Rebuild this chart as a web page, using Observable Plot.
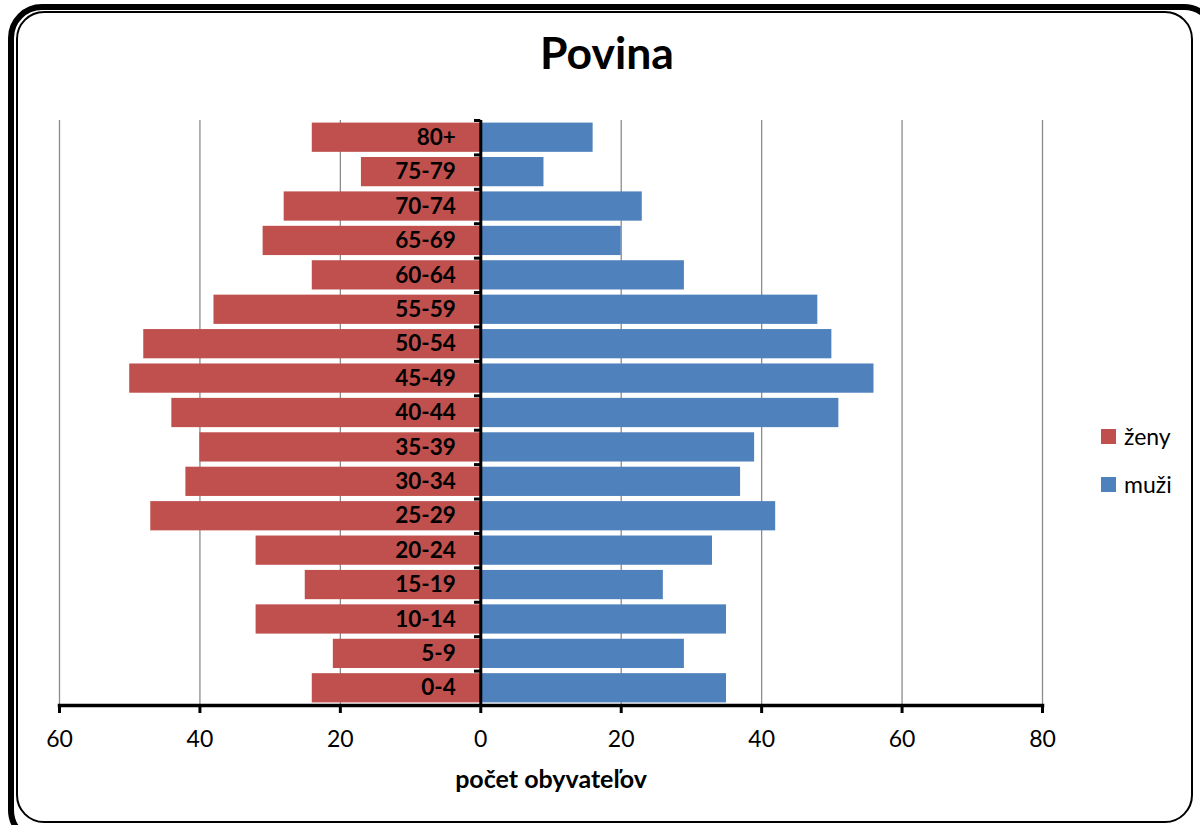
<!DOCTYPE html>
<html>
<head>
<meta charset="utf-8">
<script src="https://cdn.jsdelivr.net/npm/d3@7"></script>
<script src="https://cdn.jsdelivr.net/npm/@observablehq/plot@0.6"></script>
<style>
  html, body { margin: 0; padding: 0; background: #fff; }
  #wrap { position: relative; width: 1200px; height: 825px; overflow: hidden; font-family: Lato, "Open Sans", sans-serif; }
  #outer { position: absolute; left: 8px; top: 4px; width: 1210px; height: 840px; border: 6px solid #000; border-radius: 34px; box-sizing: border-box; }
  #inner { position: absolute; left: 16px; top: 11px; width: 1177px; height: 812px; border: 2px solid #000; border-radius: 28px; box-sizing: border-box; }
  #title { position: absolute; left: 0; width: 1214px; top: 30px; line-height: 1; text-align: center; font-weight: bold; font-size: 44.5px; color: #000; }
  #chart { position: absolute; left: 0; top: 0; }
  #xlabel { position: absolute; left: 0; width: 1102px; top: 766px; line-height: 1; text-align: center; font-weight: bold; font-size: 25px; color: #000; }
  .leg { position: absolute; left: 1101px; height: 30px; line-height: 30px; font-size: 23px; color: #000; display: flex; align-items: center; }
  .sw { width: 15px; height: 15px; margin-right: 8px; }
</style>
</head>
<body>
<div id="wrap">
  <div id="outer"></div>
  <div id="inner"></div>
  <div id="chart"></div>
  <div id="title">Povina</div>
  <div id="xlabel">počet obyvateľov</div>
  <div class="leg" style="top:421px"><div class="sw" style="background:#C0504D"></div>ženy</div>
  <div class="leg" style="top:469px"><div class="sw" style="background:#4F81BD"></div>muži</div>
</div>
<script>
const ageGroups = ["0-4","5-9","10-14","15-19","20-24","25-29","30-34","35-39","40-44","45-49","50-54","55-59","60-64","65-69","70-74","75-79","80+"];
const women = [24,21,32,25,32,47,42,40,44,50,48,38,24,31,28,17,24];
const men   = [35,29,35,26,33,42,37,39,51,56,50,48,29,20,23,9,16];
const xTicks = [-60,-40,-20,0,20,40,60,80];
const gridTicks = [-60,-40,-20,20,40,60,80];

const rows = [];
ageGroups.forEach((a, i) => {
  rows.push({age: a, sex: "ženy", v: -women[i]});
  rows.push({age: a, sex: "muži", v: men[i]});
});

const W = 1200, H = 825, mt = 120, mb = 120, ml = 59, mr = 158;
const step = (H - mt - mb) / ageGroups.length;

const plot = Plot.plot({
  width: W, height: H,
  marginTop: mt, marginBottom: mb, marginLeft: ml, marginRight: mr,
  style: {fontFamily: "Lato, 'Open Sans', sans-serif", color: "#000", background: "transparent"},
  x: {domain: [-60, 80], ticks: xTicks, tickFormat: d => Math.abs(d)},
  y: {domain: ageGroups.slice().reverse(), paddingInner: 0.15, paddingOuter: 0.075, round: false, axis: null},
  color: {domain: ["ženy","muži"], range: ["#C0504D","#4F81BD"]},
  marks: [
    Plot.ruleX(gridTicks, {stroke: "#8c8c8c", strokeWidth: 1.3}),
    Plot.barX(rows, {y: "age", x1: 0, x2: "v", fill: "sex"}),
    Plot.ruleX([0], {stroke: "#000", strokeWidth: 3}),
    Plot.ruleY(ageGroups, {y: d => d, x1: -0.9, x2: 0, dy: -step / 2, stroke: "#000", strokeWidth: 3}),
    Plot.frame({anchor: "bottom", stroke: "#000", strokeWidth: 3.5}),
    Plot.axisX({ticks: xTicks, tickFormat: d => Math.abs(d), tickSize: 8, strokeWidth: 3, fontSize: 23, tickPadding: 17, label: null}),
    Plot.text(ageGroups, {y: d => d, x: 0, text: d => d, dx: -25, textAnchor: "end", fontWeight: "bold", fontSize: 22.5, fill: "#000"})
  ]
});
document.getElementById("chart").appendChild(plot);
</script>
</body>
</html>
